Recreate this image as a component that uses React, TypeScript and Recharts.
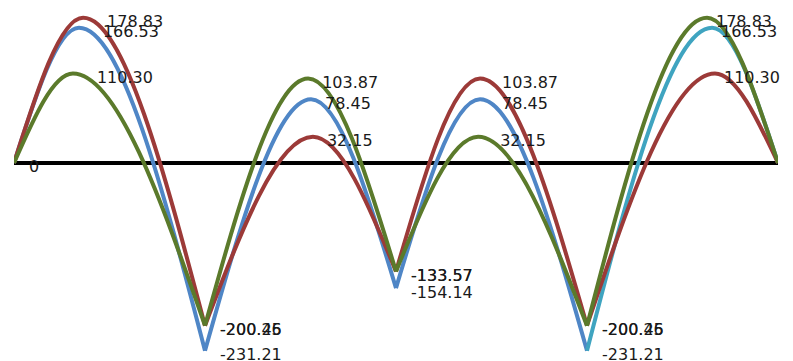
import { LineChart, Line, XAxis, YAxis, ReferenceLine, LabelList } from 'recharts';

// support positions along the beam (m) and moments at the supports
const supportX = [0, 6, 12, 18, 24];

const blueSupport = [0, -231.21, -154.14, -231.21, 0];
const bluePeak = [166.53, 78.45, 78.45, 166.53];
const bluePeakX = [2.04, 9.33, 14.64, 21.93];

const redSupport = [0, -200.45, -133.57, -200.26, 0];
const redPeak = [178.83, 32.15, 103.87, 110.3];
const redPeakX = [2.17, 9.39, 14.64, 22.02];

const greenSupport = [0, -200.26, -133.57, -200.45, 0];
const greenPeak = [110.3, 103.87, 32.15, 178.83];
const greenPeakX = [1.85, 9.24, 14.58, 21.77];

const blueColors = ['#4F86C6', '#4F86C6', '#4F86C6', '#3FA4C0'];
const redColor = '#9C3A38';
const greenColor = '#5B7A2B';

// horizontal offset of the peak labels in each span
const peakLabelDx = [24, 14, 22, 9];

type Pt = { x: number; y: number };

const buildSpans = (support: number[], peak: number[], peakX: number[]): Pt[][] =>
    peak.map((p, i) => [
        { x: supportX[i], y: support[i] },
        { x: peakX[i], y: p },
        { x: supportX[i + 1], y: support[i + 1] },
    ]);

const blueSpans = buildSpans(blueSupport, bluePeak, bluePeakX);
const redSpans = buildSpans(redSupport, redPeak, redPeakX);
const greenSpans = buildSpans(greenSupport, greenPeak, greenPeakX);

const fmt = (v: number) => (v === 0 ? '0' : v.toFixed(2));

const makeLabel = (span: number, withZeros: boolean) => (props: any) => {
    const { x, y, value, index } = props;
    let show = false;
    let dx = 15;
    if (index === 1) {
        show = true;
        dx = peakLabelDx[span];
    } else if (index === 2 && span < 3) {
        show = true;
    } else if (withZeros && ((index === 0 && span === 0) || (index === 2 && span === 3))) {
        show = true;
    }
    if (!show) return null;
    return (
        <text
            x={x + dx}
            y={y + 4}
            dominantBaseline='central'
            fontFamily='DejaVu Sans'
            fontSize={16}
            fill='#1a1a1a'
        >
            {fmt(Number(value))}
        </text>
    );
};

const App = () => {
    return (
        <div style={{ position: 'absolute', left: 0, top: 0, background: '#fff' }}>
            <LineChart
                width={793}
                height={361}
                margin={{ top: 0, right: 15, left: 14, bottom: 0 }}
            >
                <XAxis type='number' dataKey='x' domain={[0, 24]} hide allowDataOverflow />
                <YAxis type='number' domain={[-243.9, 200.7]} hide allowDataOverflow />
                <ReferenceLine y={0} stroke='#000' strokeWidth={4} />
                {blueSpans.map((d, i) => (
                    <Line
                        key={'b' + i}
                        data={d}
                        dataKey='y'
                        type='monotone'
                        stroke={blueColors[i]}
                        strokeWidth={4}
                        dot={false}
                        isAnimationActive={false}
                    >
                        <LabelList dataKey='y' content={makeLabel(i, false)} />
                    </Line>
                ))}
                {redSpans.map((d, i) => (
                    <Line
                        key={'r' + i}
                        data={d}
                        dataKey='y'
                        type='monotone'
                        stroke={redColor}
                        strokeWidth={4}
                        dot={false}
                        isAnimationActive={false}
                    >
                        <LabelList dataKey='y' content={makeLabel(i, false)} />
                    </Line>
                ))}
                {greenSpans.map((d, i) => (
                    <Line
                        key={'g' + i}
                        data={d}
                        dataKey='y'
                        type='monotone'
                        stroke={greenColor}
                        strokeWidth={4}
                        dot={false}
                        isAnimationActive={false}
                    >
                        <LabelList dataKey='y' content={makeLabel(i, true)} />
                    </Line>
                ))}
            </LineChart>
        </div>
    );
};

export default App;
